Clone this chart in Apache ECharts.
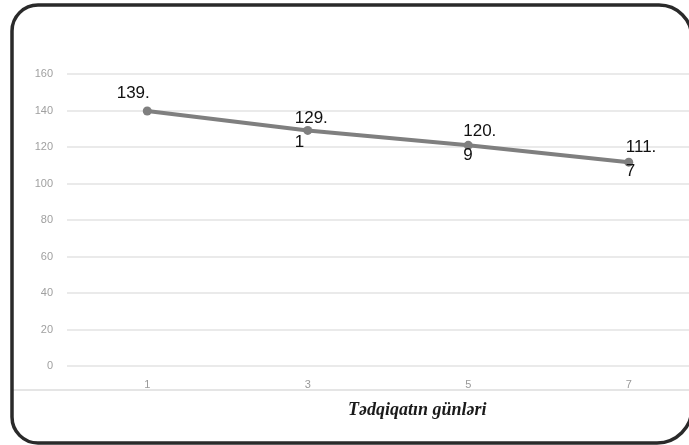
<!DOCTYPE html>
<html><head><meta charset="utf-8">
<script src="https://cdn.jsdelivr.net/npm/echarts@6/dist/echarts.min.js"></script>
<style>html,body{margin:0;padding:0;background:#fff;overflow:hidden}#c{width:709px;height:445px}</style>
</head><body><div id="c"></div>
<script>
const categories = ['1', '3', '5', '7'];
const values = [139.7, 129.1, 120.9, 111.7];
const labelTexts = ['139.', '129.\n1', '120.\n9', '111.\n7'];
const yTicks = {min: 0, max: 160, interval: 20};
const axisTitle = 'Tədqiqatın günləri';

const labelStyles = [
  {position: 'inside', align: 'center', verticalAlign: 'middle', offset: [-14, -18]},
  {position: 'inside', align: 'left', verticalAlign: 'middle', offset: [-13, 0]},
  {position: 'inside', align: 'left', verticalAlign: 'middle', offset: [-5, -2]},
  {position: 'inside', align: 'left', verticalAlign: 'middle', offset: [-3, -3]}
];

const chart = echarts.init(document.getElementById('c'), null, {renderer: 'canvas'});
chart.setOption({
  backgroundColor: '#ffffff',
  animation: false,
  grid: {left: 67, top: 74, right: 0, bottom: 79, containLabel: false},
  xAxis: {
    type: 'category', data: categories, boundaryGap: true,
    axisLine: {show: false}, axisTick: {show: false},
    axisLabel: {color: '#9a9a9a', fontSize: 11, fontFamily: 'Liberation Sans', margin: 13}
  },
  yAxis: {
    type: 'value', min: yTicks.min, max: yTicks.max, interval: yTicks.interval,
    axisLine: {show: false}, axisTick: {show: false},
    axisLabel: {color: '#a0a0a0', fontSize: 11, fontFamily: 'Liberation Sans', margin: 14},
    splitLine: {lineStyle: {color: '#e3e3e3', width: 1.5}}
  },
  series: [{
    type: 'line', data: values.map((v, i) => ({
      value: v,
      label: Object.assign({show: true, formatter: labelTexts[i]}, labelStyles[i])
    })),
    symbol: 'circle', symbolSize: 9,
    lineStyle: {color: '#7f7f7f', width: 4},
    itemStyle: {color: '#7f7f7f'},
    label: {color: '#111', fontSize: 17, fontFamily: 'Liberation Sans', lineHeight: 24}
  }],
  graphic: [
    {type: 'line', shape: {x1: 12, y1: 390, x2: 690, y2: 390}, style: {stroke: '#dddddd', lineWidth: 1.5}},
    {type: 'text', left: 348, top: 401, style: {text: axisTitle, fill: '#1a1a1a', font: 'italic bold 18px "Liberation Serif"'}},
    {type: 'rect', shape: {x: 12, y: 5, width: 680, height: 438, r: [26, 33, 35, 26]},
     style: {fill: 'none', stroke: '#2a2a2a', lineWidth: 3.5}}
  ]
});
</script></body></html>
